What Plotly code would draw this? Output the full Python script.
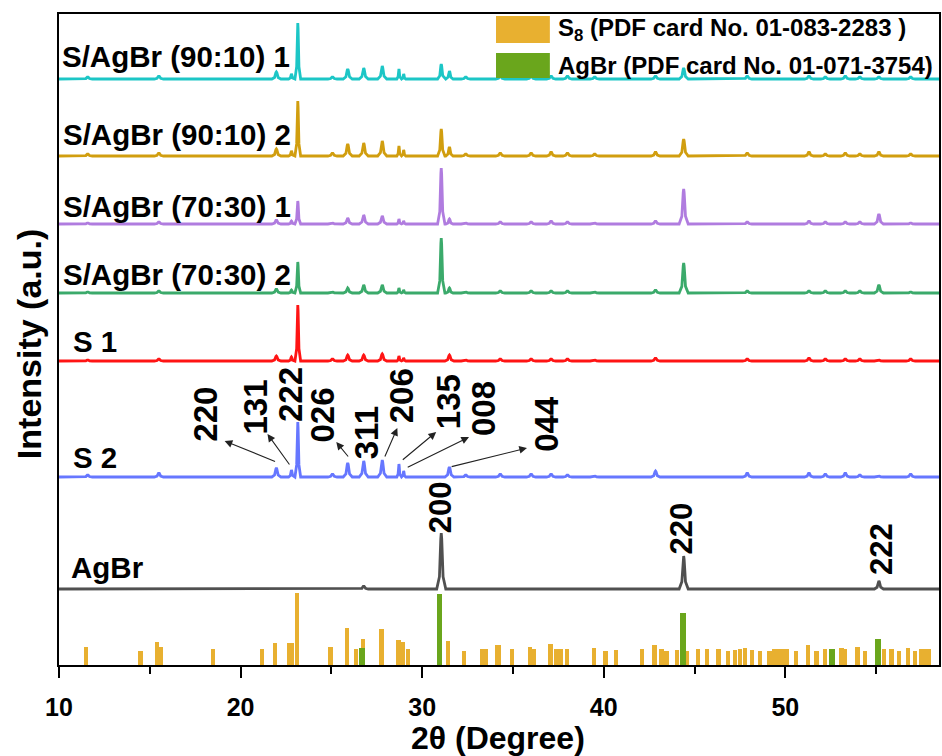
import plotly.graph_objects as go

# ---------------- data ----------------
# diffraction peak positions (2theta, degree) used by the measured patterns
PEAK_POS = [11.58, 15.5, 21.97, 22.8, 23.15, 25.06, 25.9, 26.78, 27.8, 28.72,
            28.98, 31.05, 31.5, 32.4, 34.3, 36.0, 37.1, 38.0, 39.5, 42.85,
            44.4, 47.9, 51.3, 52.2, 53.3, 54.1, 55.15, 56.9]

SERIES_NAMES = ["S/AgBr (90:10) 1", "S/AgBr (90:10) 2", "S/AgBr (70:30) 1",
                "S/AgBr (70:30) 2", "S 1", "S 2", "AgBr"]

# relative peak intensities (a.u.) for each pattern, aligned with PEAK_POS
INT_9010_1 = [2, 3, 7, 5, 56, 2, 10, 11, 13, 10, 5, 15, 8, 2, 3, 3, 3, 3, 2, 3, 11, 3, 3, 2, 3, 2, 2, 2]
INT_9010_2 = [2, 3, 7, 5, 55, 3, 12, 13, 15, 10, 6, 27, 9, 2, 3, 3, 4, 3, 2, 4, 17, 3, 4, 2, 3, 2, 4, 2]
INT_7030_1 = [1, 2, 4, 3, 23, 1, 6, 9, 8, 5, 3, 56, 5, 1, 2, 2, 3, 2, 1, 3, 35, 2, 3, 2, 2, 2, 10, 1]
INT_7030_2 = [1, 2, 4, 3, 31, 1, 5, 8, 8, 5, 3, 55, 5, 1, 2, 2, 2, 2, 1, 3, 30, 2, 2, 2, 2, 2, 8, 1]
INT_S1 = [1, 2, 5, 4, 56, 2, 6, 6, 7, 5, 3, 0, 6, 1, 2, 2, 2, 2, 1, 3, 0, 2, 3, 2, 2, 2, 1, 2]
INT_S2 = [2, 4, 9, 7, 55, 3, 14, 16, 17, 13, 6, 0, 10, 2, 3, 3, 3, 2, 1, 6, 0, 4, 4, 3, 4, 2, 1, 3]
INT_AGBR = [0, 0, 0, 0, 0, 0, 0, 3, 0, 0, 0, 56, 0, 0, 0, 0, 0, 0, 0, 0, 33, 0, 0, 0, 0, 0, 8, 0]

# reference cards (stick patterns)
S8_REF_POS = [11.48, 14.49, 15.4, 15.6, 18.48, 21.19, 21.9, 22.65, 22.8, 23.1,
              24.95, 25.86, 26.35, 26.74, 27.75, 28.7, 28.96, 29.21, 31.43, 32.31,
              33.31, 33.5, 34.14, 34.23, 34.96, 35.92, 36.15, 37.07, 37.38, 37.62,
              37.98, 39.45, 40.09, 40.68, 42.1, 42.8, 43.17, 43.45, 44.03, 44.58,
              45.18, 45.68, 46.32, 46.83, 47.23, 47.5, 47.78, 48.15, 48.6, 49.12,
              49.4, 49.58, 49.8, 50.07, 50.57, 51.26, 51.72, 52.18, 53.1, 53.28,
              53.97, 54.38, 55.44, 55.84, 56.25, 56.76, 57.13, 57.49, 57.7, 57.9]
S8_REF_INT = [18, 14, 23, 18, 16, 16, 22, 22, 22, 72,
              18, 37, 16, 26, 36, 25, 23, 16, 24, 14,
              16, 16, 20, 20, 16, 18, 16, 21, 16, 16,
              16, 17, 14, 15, 16, 20, 16, 14, 15, 14,
              16, 16, 16, 14, 15, 16, 17, 15, 14, 14,
              16, 16, 16, 16, 14, 20, 14, 16, 17, 16,
              18, 14, 16, 16, 14, 17, 14, 16, 16, 16]
AGBR_REF_POS = [26.7, 30.95, 44.38, 52.55, 55.1]
AGBR_REF_INT = [17, 71, 52, 16, 26]

S2_HKL = ["220", "131", "222", "026", "311", "206", "135", "008", "044"]
AGBR_HKL = ["200", "220", "222"]
LEGEND_TEXT = ["S<sub>8</sub> (PDF card No. 01-083-2283 )", "AgBr (PDF card No. 01-071-3754)"]
X_TICKS = [10, 20, 30, 40, 50]

# ---------------- style / layout ----------------
X_MIN, X_MAX = 10, 58.46
Y_MAX = 651
FONT = "Arial, Liberation Sans, Arial"
COLORS = ["#1CC6C6", "#D19E0F", "#B07CDF", "#3BAA6B", "#FF1414", "#6677FF", "#505050"]
BASELINES = [586, 509, 441, 372, 304, 188, 76]
S8_COLOR = "#E8B030"
AGBR_COLOR = "#6AA61C"
TEMPLATE = [(-1, 0), (-0.4, 0.22), (-0.1, 0.9), (0, 1), (0.1, 0.9), (0.4, 0.22), (1, 0)]


def pattern(positions, intens, base):
    pts = [(p, h) for p, h in zip(positions, intens) if h > 0]
    xs, ys = [X_MIN], [base]
    for i, (p, h) in enumerate(pts):
        gaps = []
        if i > 0:
            gaps.append(p - pts[i - 1][0])
        if i < len(pts) - 1:
            gaps.append(pts[i + 1][0] - p)
        w = min([0.25] + [0.45 * g for g in gaps])
        for dx, f in TEMPLATE:
            xs.append(p + dx * w)
            ys.append(base + f * h)
    xs.append(X_MAX)
    ys.append(base)
    return xs, ys


fig = go.Figure()

# reference sticks
fig.add_trace(go.Bar(x=S8_REF_POS, y=S8_REF_INT, width=0.24, marker_color=S8_COLOR,
                     marker_line_width=0, showlegend=False))
fig.add_trace(go.Bar(x=AGBR_REF_POS, y=AGBR_REF_INT, width=0.32, marker_color=AGBR_COLOR,
                     marker_line_width=0, showlegend=False))

all_int = [INT_9010_1, INT_9010_2, INT_7030_1, INT_7030_2, INT_S1, INT_S2, INT_AGBR]
for name, ints, base, col in zip(SERIES_NAMES, all_int, BASELINES, COLORS):
    xs, ys = pattern(PEAK_POS, ints, base)
    fig.add_trace(go.Scatter(x=xs, y=ys, mode="lines", name=name,
                             line=dict(color=col, width=2.8), showlegend=False))

annotations = []

# series labels (x in degree, y in plot units)
LABEL_POS = [(10.05, 609), (10.1, 531), (10.1, 459), (10.1, 391), (10.65, 324), (10.65, 208), (10.55, 98)]
for name, (lx, ly) in zip(SERIES_NAMES, LABEL_POS):
    annotations.append(dict(x=lx, y=ly, xref="x", yref="y", text="<b>%s</b>" % name,
                            showarrow=False, xanchor="left", yanchor="middle",
                            font=dict(family=FONT, size=29.5, color="black")))

# S 2 hkl labels
S2_LABEL_XY = [(18.02, 251), (20.77, 258), (22.72, 271), (24.51, 250), (26.92, 232),
               (28.85, 269), (31.43, 263), (33.35, 256), (36.81, 241)]
for t, (lx, ly) in zip(S2_HKL, S2_LABEL_XY):
    annotations.append(dict(x=lx, y=ly, xref="x", yref="y", text="<b>%s</b>" % t,
                            showarrow=False, textangle=-90, xanchor="center", yanchor="middle",
                            font=dict(family=FONT, size=33, color="black")))

# arrows (head near label, tail near peak)
ARROWS = [((19.12, 224), (21.98, 203)), ((21.48, 231), (22.75, 199)),
          ((25.27, 223), (25.99, 207)), ((28.63, 237), (27.91, 207)),
          ((30.77, 233), (28.85, 204)), ((32.58, 228), (29.12, 197)),
          ((35.77, 217), (31.54, 198))]
for (hx, hy), (tx, ty) in ARROWS:
    annotations.append(dict(x=hx, y=hy, ax=tx, ay=ty, xref="x", yref="y", axref="x", ayref="y",
                            text="", showarrow=True, arrowhead=2, arrowsize=1.4, arrowwidth=1.1,
                            arrowcolor="#222222", standoff=0, startstandoff=0))

# AgBr hkl labels
AGBR_LABEL_XY = [(30.99, 158), (44.23, 136), (55.27, 116)]
for t, (lx, ly) in zip(AGBR_HKL, AGBR_LABEL_XY):
    annotations.append(dict(x=lx, y=ly, xref="x", yref="y", text="<b>%s</b>" % t,
                            showarrow=False, textangle=-90, xanchor="center", yanchor="middle",
                            font=dict(family=FONT, size=31, color="black")))

# legend (drawn)
shapes = []
LEG_ROWS = [(0.9555, 0.9969, S8_COLOR), (0.9017, 0.9401, AGBR_COLOR)]
for (y0, y1, col), txt in zip(LEG_ROWS, LEGEND_TEXT):
    shapes.append(dict(type="rect", xref="paper", yref="paper", x0=0.4966, x1=0.5578,
                       y0=y0, y1=y1, fillcolor=col, line=dict(width=0), layer="above"))
    annotations.append(dict(x=0.5646, y=(y0 + y1) / 2, xref="paper", yref="paper",
                            text="<b>%s</b>" % txt, showarrow=False, xanchor="left", yanchor="middle",
                            font=dict(family=FONT, size=24, color="black")))

# axis titles
annotations.append(dict(x=0.499, y=-0.112, xref="paper", yref="paper", text="<b>2θ (Degree)</b>",
                        showarrow=False, xanchor="center", yanchor="middle",
                        font=dict(family=FONT, size=32, color="black")))
annotations.append(dict(x=-0.034, y=0.493, xref="paper", yref="paper", text="<b>Intensity (a.u.)</b>",
                        showarrow=False, textangle=-90, xanchor="center", yanchor="middle",
                        font=dict(family=FONT, size=34, color="black")))

fig.update_layout(
    width=942, height=756,
    margin=dict(l=59, r=1, t=14, b=91),
    paper_bgcolor="white", plot_bgcolor="white",
    barmode="overlay", bargap=0,
    showlegend=False,
    annotations=annotations, shapes=shapes,
    xaxis=dict(range=[X_MIN, X_MAX], tickvals=X_TICKS, ticktext=["<b>%d</b>" % v for v in X_TICKS],
               ticks="outside", ticklen=11, tickwidth=2, tickcolor="black", ticklabelstandoff=8,
               minor=dict(tickvals=[15, 25, 35, 45, 55], ticks="outside", ticklen=7, tickwidth=2,
                          tickcolor="black"),
               showline=True, linewidth=2, linecolor="black", mirror=True,
               showgrid=False, zeroline=False,
               tickfont=dict(family=FONT, size=25, color="black")),
    yaxis=dict(range=[0, Y_MAX], showticklabels=False, ticks="", showline=True, linewidth=2,
               linecolor="black", mirror=True, showgrid=False, zeroline=False),
)

fig.write_html("out.html")
